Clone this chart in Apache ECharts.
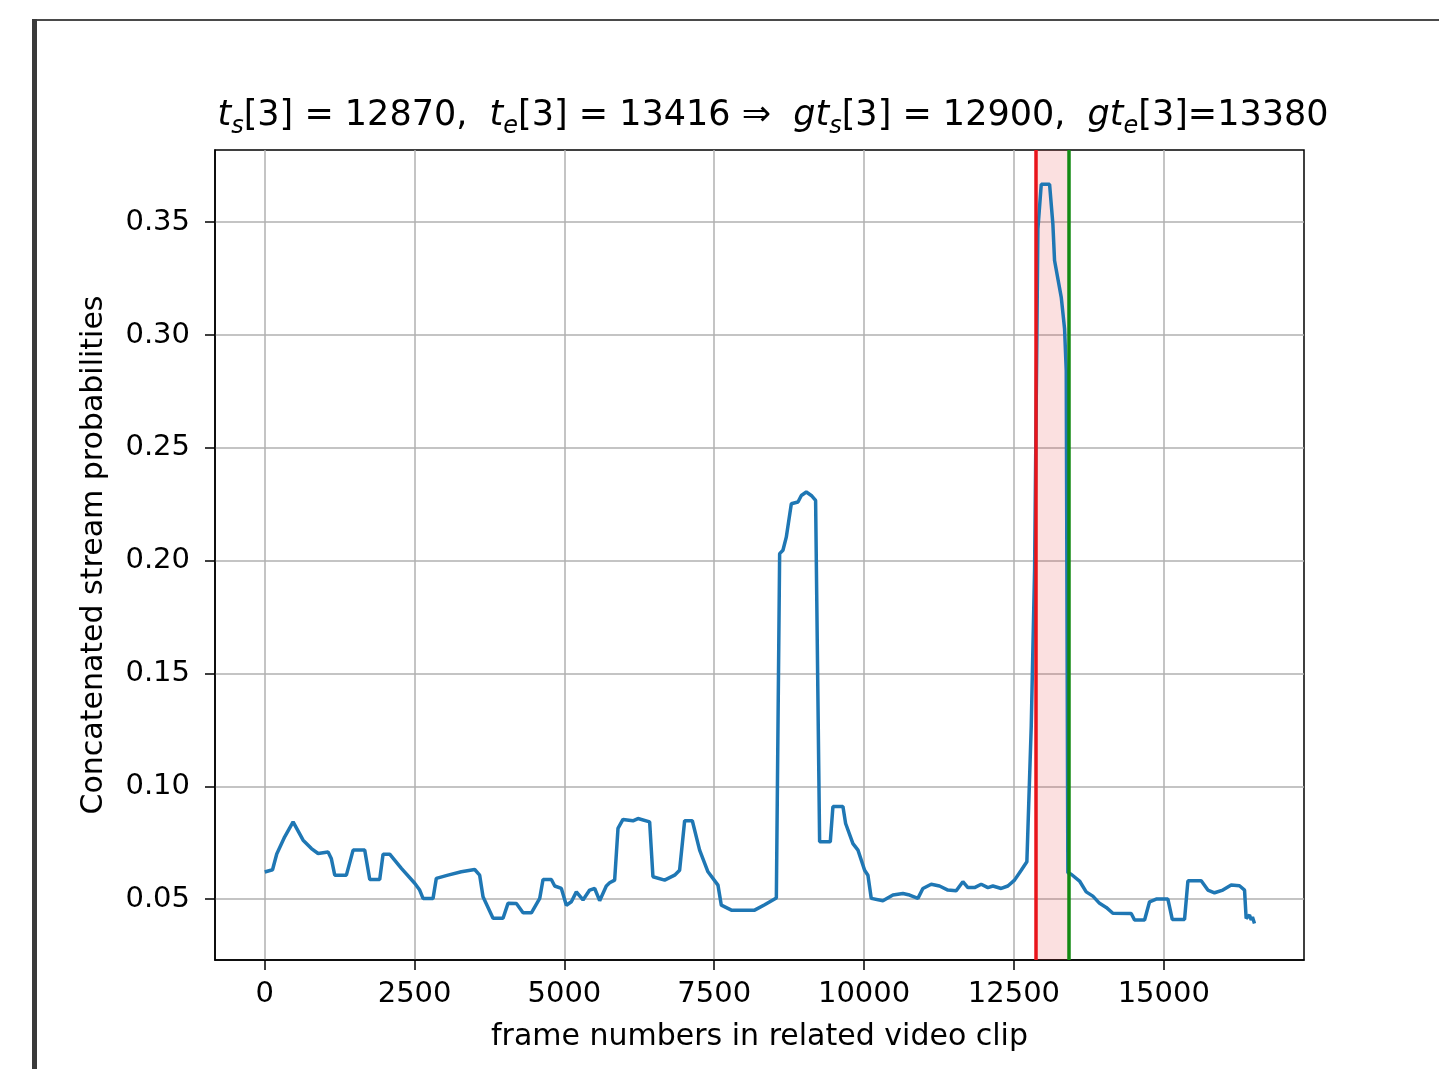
<!DOCTYPE html>
<html lang="en">
<head>
<meta charset="UTF-8">
<title>stream probabilities</title>
<script src="https://cdn.jsdelivr.net/npm/echarts@6/dist/echarts.min.js"></script>
<style>
  html, body { margin: 0; padding: 0; background: #fff; }
  #main { width: 1439px; height: 1069px; }
</style>
</head>
<body>
<div id="main"></div>
<script>
// frame numbers and probabilities
var frames = [0, 130, 200, 333, 473, 560, 640, 779, 890, 1057, 1110, 1168, 1362, 1474, 1668, 1752, 1918, 1974, 2085, 2280,
  2502, 2585, 2641, 2808, 2863, 3058, 3280, 3503, 3586, 3642, 3809, 3976, 4059, 4199, 4310, 4449, 4588, 4643, 4782, 4838,
  4949, 5032, 5116, 5199, 5310, 5421, 5505, 5588, 5699, 5755, 5838, 5894, 5977, 6144, 6227, 6422, 6477, 6672, 6839, 6922,
  7006, 7134, 7256, 7395, 7562, 7618, 7785, 8174, 8341, 8536, 8591, 8646, 8702, 8786, 8897, 8953, 9036, 9119, 9191, 9258,
  9436, 9480, 9647, 9692, 9814, 9898, 10009, 10064, 10120, 10314, 10481, 10648, 10759, 10898, 10981, 11120, 11259, 11398, 11537, 11648,
  11732, 11843, 11954, 12066, 12149, 12288, 12399, 12510, 12622, 12716, 12789, 12845, 12900, 12956, 13095, 13150, 13178, 13290, 13345, 13373,
  13400, 13456, 13595, 13706, 13817, 13929, 14040, 14151, 14457, 14513, 14680, 14763, 14874, 15069, 15142, 15347, 15403, 15625, 15736, 15847,
  15986, 16125, 16264, 16348, 16375, 16431, 16459, 16480, 16514];
var probs = [0.062, 0.063, 0.070, 0.0776, 0.0842, 0.080, 0.0761, 0.0724, 0.0702, 0.0709, 0.068, 0.0606, 0.0606, 0.0717, 0.0717, 0.0587, 0.0587, 0.0699, 0.0699, 0.0636,
  0.057, 0.054, 0.0503, 0.0503, 0.0592, 0.0606, 0.0621, 0.0631, 0.0606, 0.051, 0.0415, 0.0415, 0.0481, 0.048, 0.0439, 0.0439, 0.0503, 0.0587, 0.0587, 0.0558,
  0.0547, 0.0473, 0.0488, 0.0532, 0.0496, 0.054, 0.0547, 0.0493, 0.0558, 0.0572, 0.0584, 0.0813, 0.0853, 0.0847, 0.0857, 0.0842, 0.0599, 0.0584, 0.0606, 0.0628,
  0.0847, 0.0847, 0.0717, 0.0621, 0.0562, 0.0473, 0.0451, 0.0451, 0.0475, 0.0505, 0.2031, 0.2046, 0.2104, 0.2252, 0.226, 0.2289, 0.2304, 0.2289, 0.2267, 0.0754,
  0.0754, 0.091, 0.091, 0.0835, 0.0746, 0.0717, 0.0628, 0.0606, 0.0503, 0.0493, 0.0518, 0.0525, 0.0518, 0.0503, 0.0547, 0.0566, 0.0558, 0.054, 0.0537, 0.0577,
  0.0551, 0.0551, 0.0566, 0.0551, 0.0558, 0.0547, 0.0558, 0.0584, 0.0628, 0.0665, 0.1266, 0.1963, 0.347, 0.3668, 0.3668, 0.3492, 0.333, 0.3167, 0.3028, 0.2842,
  0.0617, 0.061, 0.058, 0.0532, 0.0513, 0.0481, 0.0463, 0.0437, 0.0436, 0.0407, 0.0407, 0.0488, 0.05, 0.05, 0.041, 0.041, 0.0581, 0.0581, 0.054, 0.0528,
  0.054, 0.0562, 0.0559, 0.054, 0.0414, 0.0429, 0.0407, 0.042, 0.0392];

// predicted start / end of the segment
var tsFrame = 12870;
var teFrame = 13416;

var xTicks = [0, 2500, 5000, 7500, 10000, 12500, 15000];
var yTicks = [0.05, 0.10, 0.15, 0.20, 0.25, 0.30, 0.35];

var titleText = '{it|t}{sub|s}{n|[3] = 12870,  }{it|t}{sub|e}{n|[3] = 13416 ⇒  }{it|gt}{sub|s}{n|[3] = 12900,  }{it|gt}{sub|e}{n|[3]=13380}';

var myChart = echarts.init(document.getElementById('main'));

var points = [];
for (var i = 0; i < frames.length; i++) {
  points.push([frames[i], probs[i]]);
}

var font = 'DejaVu Sans';

var option = {
  animation: false,
  backgroundColor: '#fff',
  title: {
    text: titleText,
    left: 768,
    top: 93,
    textAlign: 'center',
    textStyle: {
      rich: {
        n: { fontFamily: font, fontWeight: 'normal', fontSize: 35, color: '#000', padding: [0, 0, 6, 0], verticalAlign: 'bottom' },
        it: { fontFamily: font, fontWeight: 'normal', fontStyle: 'italic', fontSize: 35, color: '#000', padding: [0, 0, 6, 0], verticalAlign: 'bottom' },
        sub: { fontFamily: font, fontWeight: 'normal', fontStyle: 'italic', fontSize: 24, color: '#000', verticalAlign: 'bottom' }
      }
    }
  },
  graphic: [
    { type: 'rect', shape: { x: 32, y: 19, width: 1407, height: 2 }, style: { fill: '#4a4a4a' } },
    { type: 'rect', shape: { x: 32, y: 19, width: 5, height: 1050 }, style: { fill: '#3a3a3a' } }
  ],
  grid: {
    left: 215,
    right: 135,
    top: 150,
    bottom: 109,
    show: true,
    borderColor: '#000',
    borderWidth: 1.5,
    containLabel: false
  },
  xAxis: {
    type: 'value',
    min: -830,
    max: 17340,
    name: 'frame numbers in related video clip',
    nameLocation: 'middle',
    nameGap: 62,
    nameTextStyle: { fontFamily: font, fontSize: 30, color: '#000' },
    axisLine: { show: true, onZero: false, lineStyle: { color: '#000', width: 1.5 } },
    axisTick: { show: true, inside: false, length: 10, lineStyle: { color: '#000', width: 1.5 }, customValues: xTicks },
    axisLabel: {
      customValues: xTicks,
      margin: 20,
      fontFamily: font,
      fontSize: 29,
      color: '#000',
      formatter: function (v) { return String(v); }
    },
    splitLine: { show: true, lineStyle: { color: '#b0b0b0', width: 1.5 } }
  },
  yAxis: {
    type: 'value',
    min: 0.023,
    max: 0.382,
    name: 'Concatenated stream probabilities',
    nameLocation: 'middle',
    nameRotate: 90,
    nameGap: 106,
    nameTextStyle: { fontFamily: font, fontSize: 30, color: '#000' },
    axisLine: { show: true, onZero: false, lineStyle: { color: '#000', width: 1.5 } },
    axisTick: { show: true, inside: false, length: 10, lineStyle: { color: '#000', width: 1.5 }, customValues: yTicks },
    axisLabel: {
      customValues: yTicks,
      margin: 25,
      fontFamily: font,
      fontSize: 29,
      color: '#000',
      formatter: function (v) { return v.toFixed(2); }
    },
    splitLine: { show: true, lineStyle: { color: '#b0b0b0', width: 1.5 } }
  },
  series: [
    {
      type: 'line',
      data: points,
      showSymbol: false,
      symbol: 'none',
      lineStyle: { color: '#1f77b4', width: 3.5 },
      z: 3,
      markArea: {
        silent: true,
        itemStyle: { color: 'rgba(230, 60, 60, 0.16)' },
        data: [[{ xAxis: tsFrame }, { xAxis: teFrame }]]
      },
      markLine: {
        silent: true,
        symbol: 'none',
        label: { show: false },
        data: [
          { xAxis: tsFrame, lineStyle: { color: '#e8141a', width: 3.5, type: 'solid' } },
          { xAxis: teFrame, lineStyle: { color: '#138a13', width: 3.5, type: 'solid' } }
        ]
      }
    }
  ]
};

myChart.setOption(option);
</script>
</body>
</html>
